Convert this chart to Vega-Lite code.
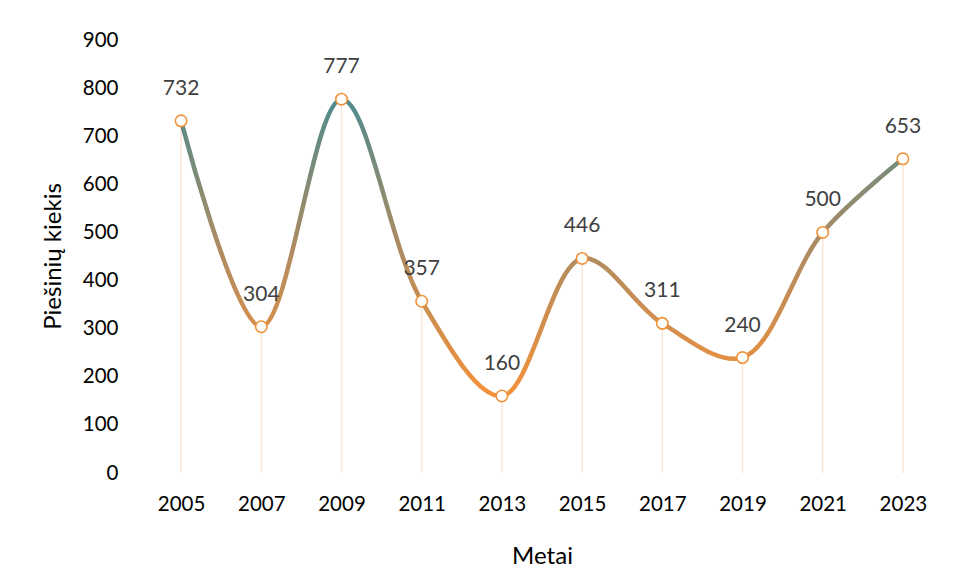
{
  "$schema": "https://vega.github.io/schema/vega-lite/v6.json",
  "width": 802,
  "height": 433,
  "autosize": {"type": "none"},
  "padding": {"left": 141, "top": 40, "right": 15, "bottom": 111},
  "background": "white",
  "config": {"view": {"stroke": null}, "font": "Lato"},
  "data": {
    "values": [
      {"year": "2005", "count": 732},
      {"year": "2007", "count": 304},
      {"year": "2009", "count": 777},
      {"year": "2011", "count": 357},
      {"year": "2013", "count": 160},
      {"year": "2015", "count": 446},
      {"year": "2017", "count": 311},
      {"year": "2019", "count": 240},
      {"year": "2021", "count": 500},
      {"year": "2023", "count": 653}
    ]
  },
  "encoding": {
    "x": {
      "field": "year",
      "type": "ordinal",
      "scale": {"type": "point", "padding": 0.5},
      "axis": {
        "title": "Metai",
        "labelAngle": 0,
        "labelFontSize": 20.5,
        "labelColor": "#000000",
        "labelPadding": 21,
        "domain": false,
        "ticks": false,
        "grid": false,
        "titleFontSize": 24,
        "titleFontWeight": "normal",
        "titleColor": "#000000",
        "titleY": 83,
        "titleBaseline": "middle"
      }
    },
    "y": {
      "field": "count",
      "type": "quantitative",
      "scale": {"domain": [0, 900], "nice": false},
      "axis": {
        "title": "Piešinių kiekis",
        "values": [0, 100, 200, 300, 400, 500, 600, 700, 800, 900],
        "labelFontSize": 20.5,
        "labelColor": "#000000",
        "labelPadding": 23,
        "domain": false,
        "ticks": false,
        "grid": false,
        "titleFontSize": 24,
        "titleFontWeight": "normal",
        "titleColor": "#000000",
        "titleX": -88,
        "titleY": 216,
        "titleAlign": "center",
        "titleBaseline": "middle"
      }
    }
  },
  "layer": [
    {
      "mark": {"type": "rule", "color": "#fbe5d6", "strokeWidth": 1.5},
      "encoding": {"y2": {"datum": 0}}
    },
    {
      "mark": {
        "type": "line",
        "interpolate": "catmull-rom",
        "strokeWidth": 4.5,
        "strokeCap": "round",
        "color": {
          "gradient": "linear",
          "x1": 0, "y1": 0, "x2": 0, "y2": 1,
          "stops": [
            {"offset": 0, "color": "#4e8b8d"},
            {"offset": 0.5, "color": "#ad8b62"},
            {"offset": 1, "color": "#f5913a"}
          ]
        }
      }
    },
    {
      "mark": {
        "type": "point",
        "shape": "circle",
        "filled": true,
        "fill": "white",
        "stroke": "#f0913a",
        "strokeWidth": 1.6,
        "size": 130,
        "opacity": 1
      }
    },
    {
      "mark": {
        "type": "text",
        "fontSize": 21,
        "color": "#404040",
        "dy": -32,
        "baseline": "middle"
      },
      "encoding": {"text": {"field": "count", "type": "quantitative"}}
    }
  ]
}
